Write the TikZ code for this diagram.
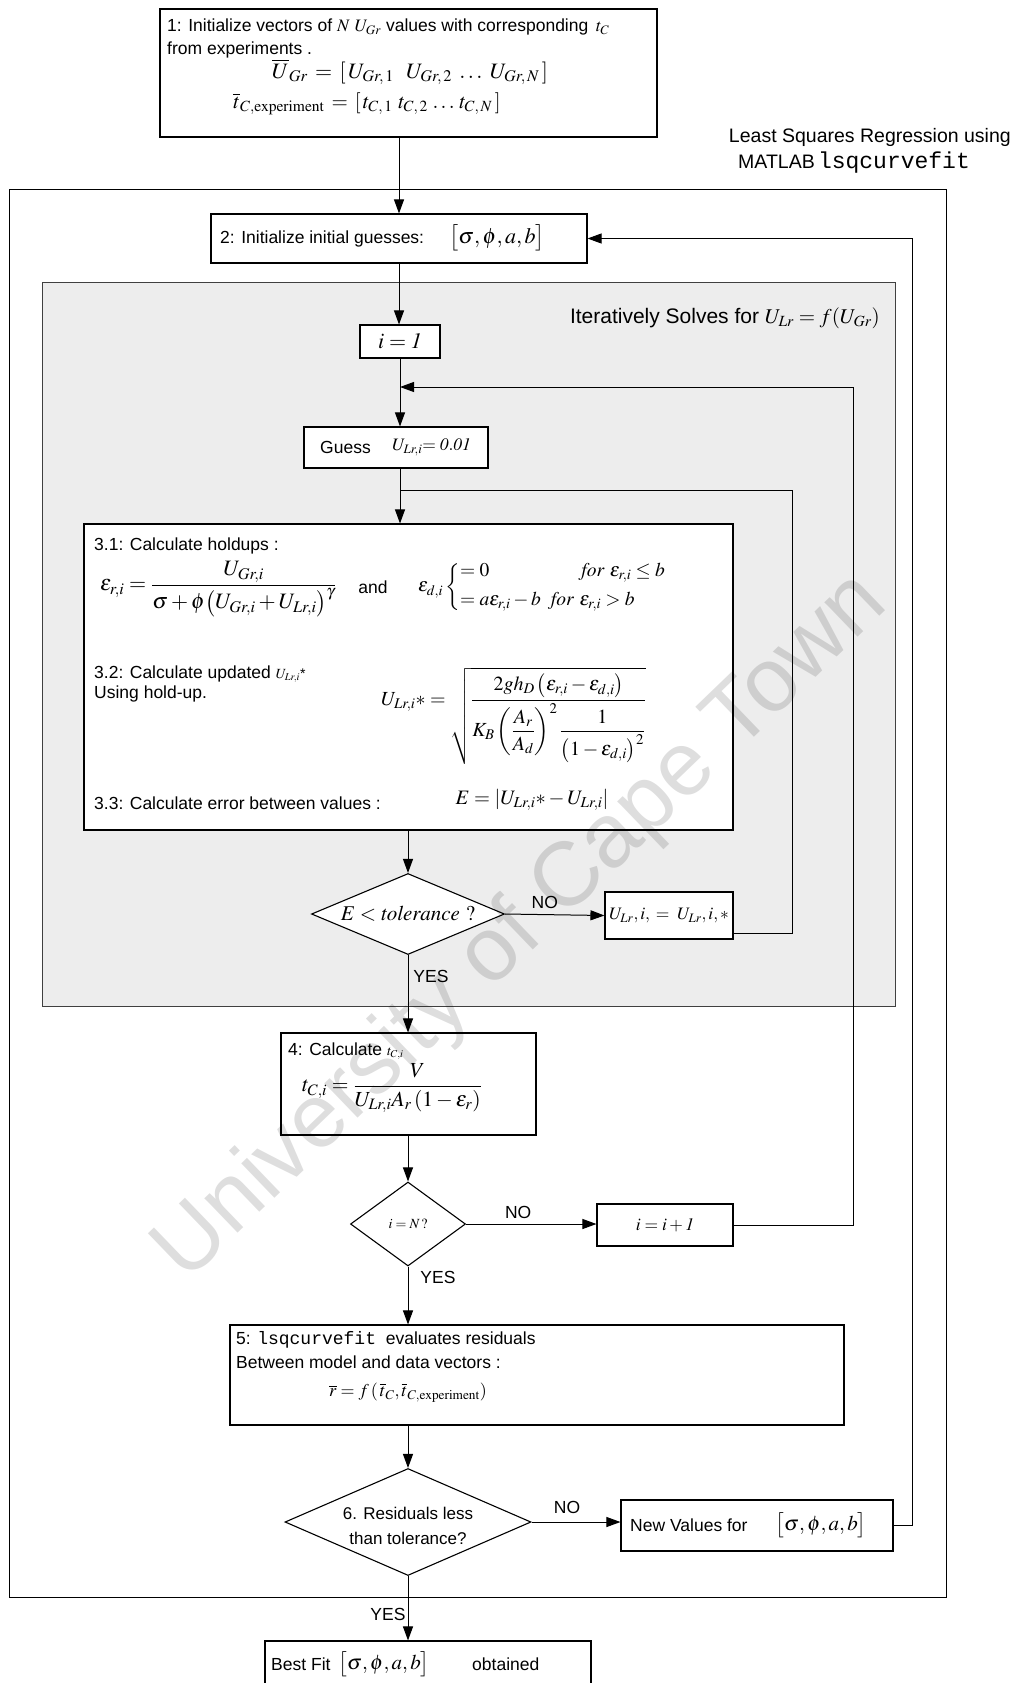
\documentclass[tikz,border=0pt]{standalone}
\usepackage{amsmath}
\usepackage{mathptmx}
\usepackage[no-math]{fontspec}
\setmainfont{Liberation Sans}
\setmonofont{Liberation Mono}
\usetikzlibrary{shapes.geometric,arrows.meta}
\newcommand\basefont{\fontsize{17.5}{21}\selectfont}
\newcommand\smallfont{\fontsize{14}{16}\selectfont}
\newcommand\fs[1]{\fontsize{#1}{#1}\selectfont}
\begin{document}
\begin{tikzpicture}[x=1pt,y=-1pt,
  box/.style={draw, line width=1.1pt, fill=white, rectangle, inner sep=0pt},
  dia/.style={draw, line width=1.1pt, fill=white, diamond, inner sep=0pt},
  arr/.style={line width=1pt, -{Triangle[length=14pt,width=10pt]}},
  ln/.style={line width=1pt},
  txt/.style={inner sep=0pt, anchor=west, font=\basefont},
  lbl/.style={inner sep=0pt, font=\basefont}]
\useasboundingbox (0,0) rectangle (1016,1683);

% frames
\draw[line width=1pt] (9,189) rectangle (946,1597);
\draw[line width=1pt, draw=black!75, fill=black!7] (42,282) rectangle (895,1006);

% return rails
\coordinate (rail1) at (912,0);
\coordinate (rail2) at (853,0);
\coordinate (rail3) at (792,0);
\coordinate (j1) at (400,387);
\coordinate (j2) at (400,490);

% boxes
\node[box, minimum width=497, minimum height=128] (b1) at (408.5,73) {};
\node[box, minimum width=376, minimum height=49] (b2) at (399,238.5) {};
\node[box, minimum width=80, minimum height=33] (bi1) at (400,341.5) {};
\node[box, minimum width=184, minimum height=41] (bg) at (396,447.5) {};
\node[box, minimum width=649, minimum height=306] (b3) at (408.5,677) {};
\node[dia, minimum width=193, minimum height=81] (d1) at (408,914) {};
\node[box, minimum width=128, minimum height=47] (bu) at (669,915.5) {};
\node[box, minimum width=255, minimum height=102] (b4) at (408.5,1084) {};
\node[dia, minimum width=115, minimum height=84] (d2) at (408,1224) {};
\node[box, minimum width=136, minimum height=42] (bi2) at (665,1225) {};
\node[box, minimum width=614, minimum height=100] (b5) at (537,1375) {};
\node[dia, minimum width=246, minimum height=107] (d3) at (408,1522) {};
\node[box, minimum width=272, minimum height=51] (bn) at (757,1525.5) {};
\node[box, minimum width=326, minimum height=49] (bf) at (428,1665.5) {};

% connectors
\draw[arr] (b1.south -| b2.north) -- (b2.north);
\draw[arr] (b2.south) -- (b2.south |- bi1.north);
\draw[arr] (bi1.south) -- (bi1.south |- bg.north);
\draw[arr] (bi2.east) -- (bi2.east -| rail2) |- (j1);
\draw[arr] (bg.south -| j2) -- (j2 |- b3.north);
\draw[ln] ([yshift=-18pt]bu.east) -- ([yshift=-18pt]bu.east -| rail3) |- (j2);
\draw[arr] (b3.south -| d1.north) -- (d1.north);
\draw[arr] (d1.east) -- (bu.west) node[lbl, pos=0.4, above=5pt] (no1) {NO};
\draw[arr] (d1.south) -- (d1.south |- b4.north);
\draw[arr] (b4.south -| d2.north) -- (d2.north);
\draw[arr] (d2.east) -- (d2.east -| bi2.west) node[lbl, pos=0.4, above=5pt] (no2) {NO};
\draw[arr] (d2.south) -- (d2.south |- b5.north);
\draw[arr] (b5.south -| d3.north) -- (d3.north);
\draw[arr] (d3.east) -- (d3.east -| bn.west) node[lbl, pos=0.4, above=8pt] (no3) {NO};
\draw[arr] (bn.east) -- (bn.east -| rail1) |- (b2.east);
\draw[arr] (d3.south) -- (d3.south |- bf.north);

\node[lbl] (yes1) at (431,976) {YES};
\node[lbl] (yes2) at (438,1277) {YES};
\node[lbl] (yes3) at (388,1614) {YES};

% step 1
\node[txt] (t1a) at (167,27) {1: Initialize vectors of $N$ $U_{Gr}$ values with corresponding \,$t_C$};
\node[txt] (t1b) at (167,50) {from experiments .};
\node[lbl, font=\fs{22}] (t1c) at (410,72) {$\overline{U}_{Gr} \,=\, [\,U_{Gr,\,1}\ \ U_{Gr,\,2}\;\ldots\;U_{Gr,\,N}\,]$};
\node[lbl, font=\fs{21}] (t1d) at (367,104) {$\overline{t}_{C,\mathrm{experiment}} \,=\, [\,t_{C,\,1}\ t_{C,\,2}\,\ldots\,t_{C,\,N}\,]$};

\node[lbl, font=\fs{19.5}, anchor=east] (lsq1) at (1011,137) {Least Squares Regression using};
\node[lbl, font=\fs{19.5}, anchor=west] (lsq2) at (738,163) {MATLAB\,{\fs{23}\texttt{lsqcurvefit}}};

% step 2
\node[txt] (t2) at (220,238.5) {2: Initialize initial guesses:};
\node[lbl, font=\fs{22}] (t2m) at (497,238) {$\big[\sigma,\phi,a,b\big]$};

\node[lbl, font=\fs{21}, anchor=east] (iter) at (880,318) {Iteratively Solves for $U_{Lr} = f(U_{Gr})$};

\node[lbl, font=\fs{22}] (ti1) at (bi1) {$i = \mathit{1}$};
\node[txt] (tg) at (320,447.5) {Guess};
\node[txt] (tgm) at (392,447.5) {$U_{Lr,i}{=}\;\mathit{0.01}$};

% step 3
\node[txt] (t31) at (94,546) {3.1: Calculate holdups :};
\node[txt, font=\fs{22}] (e31a) at (100,589) {$\displaystyle \varepsilon_{r,i} = \frac{U_{Gr,i}}{\sigma + \phi\bigl(U_{Gr,i} + U_{Lr,i}\bigr)^{\gamma}}$};
\node[lbl] (and) at (373,587) {and};
\node[txt, font=\fs{19.5}] (e31b) at (418,587) {$\displaystyle \varepsilon_{d,i}\left\{\begin{array}{@{}ll@{}} = 0 & \quad\ \ \mathit{for}\ \varepsilon_{r,i} \le b\\[10pt] = a\varepsilon_{r,i} - b & \mathit{for}\ \varepsilon_{r,i} > b\end{array}\right.$};
\node[txt] (t32a) at (94,674) {3.2: Calculate updated {\smallfont$U_{Lr,i}$*}};
\node[txt] (t32b) at (94,694) {Using hold-up.};
\node[txt, font=\fs{20}] (e32) at (381,716) {$\displaystyle U_{Lr,i}{*} = \sqrt{\frac{2gh_D\left(\varepsilon_{r,i} - \varepsilon_{d,i}\right)}{K_B\left(\dfrac{A_r}{A_d}\right)^{2}\dfrac{1}{\left(1-\varepsilon_{d,i}\right)^{2}}}}$};
\node[txt] (t33) at (94,803) {3.3: Calculate error between values :};
\node[lbl, font=\fs{20.5}] (e33) at (532,800) {$E = \left|U_{Lr,i}{*} - U_{Lr,i}\right|$};

\node[lbl, font=\fs{21}] (td1) at (d1) {$E < \mathit{tolerance}\ ?$};
\node[lbl] (tu) at (bu) {$U_{Lr}, i, \;=\; U_{Lr}, i, *$};

% step 4
\node[txt] (t4) at (288,1051) {4: Calculate {\smallfont$t_{C,i}$}};
\node[txt, font=\fs{21.5}] (e4) at (302,1088) {$\displaystyle t_{C,i} = \frac{V}{U_{Lr,i}A_r\left(1-\varepsilon_r\right)}$};

\node[lbl, font=\smallfont] (td2) at (d2) {$i = N\,\mathit{?}$};
\node[lbl] (ti2) at (bi2) {$i = i + \mathit{1}$};

% step 5
\node[txt] (t5a) at (236,1340) {5: {\fs{18}\texttt{lsqcurvefit}}\ \ evaluates residuals};
\node[txt] (t5b) at (236,1362) {Between model and data vectors :};
\node[lbl, font=\fs{18}] (e5) at (408,1393) {$\overline{r} = f\,(\,\overline{t}_C, \overline{t}_{C,\mathrm{experiment}})$};

% step 6
\node[lbl, align=center, font=\fontsize{17}{25}\selectfont] (td3) at ([yshift=-4pt]d3.center) {6. Residuals less\\than tolerance?};

\node[txt] (tn) at (630,1525) {New Values for};
\node[lbl, font=\fs{21}] (tnm) at (821,1525) {$\big[\sigma,\phi,a,b\big]$};

\node[txt] (tf) at (271,1664) {Best Fit};
\node[lbl, font=\fs{21}] (tfm) at (384,1664) {$\big[\sigma,\phi,a,b\big]$};
\node[txt] (tf2) at (472,1664) {obtained};

% watermark
\node[inner sep=0pt, rotate=43.9, text=black, opacity=0.13, font=\fs{90.5}] (wm) at (522,928) {University of Cape Town};
\end{tikzpicture}
\end{document}
